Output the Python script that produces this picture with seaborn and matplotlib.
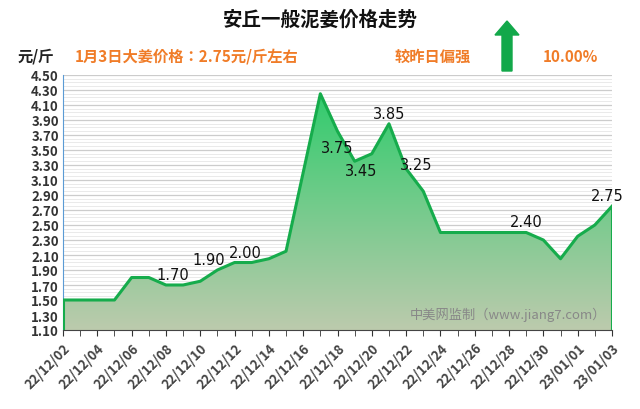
import matplotlib
matplotlib.use("Agg")
import matplotlib.pyplot as plt
from matplotlib import font_manager as fm
import seaborn as sns
import numpy as np
import pandas as pd
from matplotlib.patches import Polygon, FancyArrow
from matplotlib.colors import LinearSegmentedColormap

cjk_name = None
for f in fm.fontManager.ttflist:
    if "CJK" in f.name and ("SC" in f.name or cjk_name is None):
        cjk_name = f.name
        if "SC" in f.name:
            break
if cjk_name is None:
    import glob
    files = glob.glob("/usr/share/fonts/**/*CJK*", recursive=True)
    for fp in files:
        fm.fontManager.addfont(fp)
    cjk_name = fm.FontProperties(fname=files[0]).get_name() if files else "DejaVu Sans"
plt.rcParams["font.family"] = [cjk_name, "DejaVu Sans"]

dates = ["22/12/%02d" % d for d in range(2, 32)] + ["23/01/01", "23/01/02", "23/01/03"]
prices = [1.5, 1.5, 1.5, 1.5, 1.8, 1.8, 1.7, 1.7, 1.75, 1.9, 2.0, 2.0, 2.05, 2.15, 3.2, 4.25,
          3.75, 3.35, 3.45, 3.85, 3.25, 2.95, 2.4, 2.4, 2.4, 2.4, 2.4, 2.4, 2.3, 2.05, 2.35, 2.5, 2.75]
labels = {"22/12/08": "1.70", "22/12/11": "1.90", "22/12/13": "2.00", "22/12/18": "3.75",
          "22/12/20": "3.45", "22/12/21": "3.85", "22/12/22": "3.25", "22/12/29": "2.40",
          "23/01/03": "2.75"}
yticks = [round(1.1 + 0.2 * i, 2) for i in range(18)]

df = pd.DataFrame({"x": np.arange(len(dates)), "date": dates, "price": prices})

fig = plt.figure(figsize=(6.4, 4.1), dpi=100)
ax = fig.add_axes([63/640, 1-331/410, (612-63)/640, (331-76)/410])
ymin, ymax = 1.1, 4.5
xmax = len(dates) - 1

for v in np.arange(1.1, 4.51, 0.05):
    ax.axhline(v, color="#e6e6e6", lw=0.6, zorder=0)
for v in yticks:
    ax.axhline(v, color="#cccccc", lw=0.9, zorder=0)

grad = np.linspace(0, 1, 256).reshape(-1, 1)
cmap = LinearSegmentedColormap.from_list("g", ["#bccaad", "#2fcc6c"])
im = ax.imshow(grad, extent=[0, xmax, ymin, 4.3], origin="lower", aspect="auto", cmap=cmap, zorder=1)
poly = Polygon(list(zip(df.x, df.price)) + [(xmax, ymin), (0, ymin)], closed=True, transform=ax.transData)
im.set_clip_path(poly)

sns.lineplot(data=df, x="x", y="price", ax=ax, color="#16ac4c", lw=2.2, zorder=3)
ax.plot([xmax, xmax], [ymin, prices[-1]], color="#16ac4c", lw=2.2, zorder=3)
ax.plot([0, 0], [ymin, prices[0]], color="#16ac4c", lw=2.2, zorder=3)

# label placement offsets (dx in days, below?)
place = {"22/12/08": (0.4, False), "22/12/11": (-0.5, False), "22/12/13": (-0.4, False),
         "22/12/18": (0.0, True), "22/12/20": (-0.6, True), "22/12/21": (0.0, False),
         "22/12/22": (0.6, False), "22/12/29": (0.0, False), "23/01/03": (-0.3, False)}
for d, t in labels.items():
    i = dates.index(d)
    dx, below = place[d]
    y = prices[i] - 0.12 if below else prices[i] + 0.04
    if d == "22/12/22":
        y = prices[i] - 0.05
    ax.text(i + dx, y, t, ha="center", va="top" if below else "bottom",
            fontsize=10.5, color="#111111", family="DejaVu Sans", zorder=4)

ax.set_xlim(0, xmax)
ax.set_ylim(ymin, ymax)
ax.set_yticks(yticks)
ax.set_yticklabels(["%.2f" % v for v in yticks], fontsize=9.5, fontweight="bold", color="#333333")
ax.set_xticks(range(0, len(dates), 2))
ax.set_xticklabels(dates[::2], rotation=45, ha="right", rotation_mode="anchor",
                   fontsize=9.5, fontweight="bold", color="#444444")
ax.set_xticks(range(len(dates)), minor=True)
ax.tick_params(axis="x", which="both", direction="out", length=4, color="#333333")
ax.tick_params(axis="y", length=0, pad=3)
ax.set_xlabel("")
ax.set_ylabel("")
for s in ["top", "right"]:
    ax.spines[s].set_visible(False)
ax.spines["left"].set_color("#5b9bd5")
ax.spines["bottom"].set_color("#444444")

ax.text(0.99, 0.035, "中美网监制（www.jiang7.com）", transform=ax.transAxes, ha="right",
        va="bottom", fontsize=9.5, color="#888888", zorder=5)

fig.text(0.5, 1-20/410, "安丘一般泥姜价格走势", ha="center", va="center", fontsize=14, fontweight="bold", color="#111111")
fig.text(18/640, 1-57/410, "元/斤", ha="left", va="center", fontsize=11, fontweight="bold", color="#222222")
fig.text(75/640, 1-57/410, "1月3日大姜价格：2.75元/斤左右", ha="left", va="center", fontsize=11, fontweight="bold", color="#f07c28")
fig.text(395/640, 1-57/410, "较昨日偏强", ha="left", va="center", fontsize=11, fontweight="bold", color="#f07c28")
fig.text(543/640, 1-57/410, "10.00%", ha="left", va="center", fontsize=11, fontweight="bold", color="#f07c28")
fig.patches.append(FancyArrow(507/640, 1-72/410, 0, 36/410, width=10/640, head_width=24/640,
                              head_length=14/410, color="#12a84a", transform=fig.transFigure, figure=fig))

fig.savefig("out.png", dpi=100, facecolor="white")
